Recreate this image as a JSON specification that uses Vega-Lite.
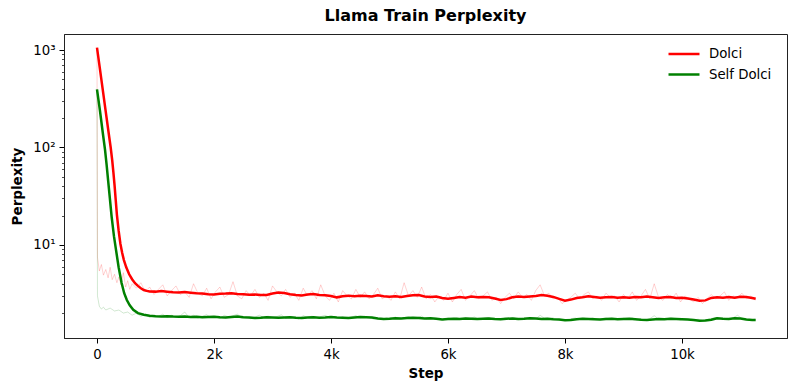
{
"$schema":"https://vega.github.io/schema/vega-lite/v6.json",
"width":723,"height":304,
"autosize":{"type":"none"},
"padding":{"left":64,"top":34,"right":11,"bottom":54},
"background":"white",
"config":{"view":{"stroke":"#222222","strokeWidth":1},"font":"DejaVu Sans","axis":{"labelFont":"DejaVu Sans","titleFont":"DejaVu Sans","labelColor":"black","titleColor":"black","tickColor":"black","domainColor":"#222222","grid":false}},
"title":{"text":"Llama Train Perplexity","font":"DejaVu Sans","fontSize":16,"fontWeight":"bold","color":"black","anchor":"middle","offset":10},
"datasets":{
"smooth":[
{"step":0,"value":1060,"series":"Dolci"},{"step":50,"value":640,"series":"Dolci"},{"step":100,"value":385,"series":"Dolci"},{"step":150,"value":232,"series":"Dolci"},{"step":200,"value":140,"series":"Dolci"},{"step":234,"value":100,"series":"Dolci"},{"step":260,"value":74,"series":"Dolci"},{"step":280,"value":56,"series":"Dolci"},{"step":300,"value":41,"series":"Dolci"},{"step":320,"value":29,"series":"Dolci"},{"step":340,"value":20.5,"series":"Dolci"},{"step":370,"value":14,"series":"Dolci"},{"step":400,"value":10.3,"series":"Dolci"},{"step":430,"value":8.3,"series":"Dolci"},{"step":460,"value":7.0,"series":"Dolci"},{"step":500,"value":5.9,"series":"Dolci"},{"step":550,"value":5.0,"series":"Dolci"},{"step":600,"value":4.45,"series":"Dolci"},{"step":650,"value":4.05,"series":"Dolci"},{"step":700,"value":3.8,"series":"Dolci"},{"step":750,"value":3.6,"series":"Dolci"},{"step":800,"value":3.45,"series":"Dolci"},{"step":850,"value":3.38,"series":"Dolci"},{"step":900,"value":3.33,"series":"Dolci"},{"step":1000,"value":3.32,"series":"Dolci"},{"step":1100,"value":3.36,"series":"Dolci"},{"step":1200,"value":3.31,"series":"Dolci"},{"step":1300,"value":3.27,"series":"Dolci"},{"step":1400,"value":3.25,"series":"Dolci"},{"step":1500,"value":3.29,"series":"Dolci"},{"step":1600,"value":3.24,"series":"Dolci"},{"step":1700,"value":3.2,"series":"Dolci"},{"step":1800,"value":3.18,"series":"Dolci"},{"step":1900,"value":3.12,"series":"Dolci"},{"step":2000,"value":3.1,"series":"Dolci"},{"step":2100,"value":3.15,"series":"Dolci"},{"step":2200,"value":3.17,"series":"Dolci"},{"step":2300,"value":3.2,"series":"Dolci"},{"step":2400,"value":3.14,"series":"Dolci"},{"step":2500,"value":3.12,"series":"Dolci"},{"step":2600,"value":3.08,"series":"Dolci"},{"step":2700,"value":3.1,"series":"Dolci"},{"step":2800,"value":3.06,"series":"Dolci"},{"step":2900,"value":3.07,"series":"Dolci"},{"step":3000,"value":3.18,"series":"Dolci"},{"step":3100,"value":3.25,"series":"Dolci"},{"step":3200,"value":3.21,"series":"Dolci"},{"step":3300,"value":3.12,"series":"Dolci"},{"step":3400,"value":3.06,"series":"Dolci"},{"step":3500,"value":3.03,"series":"Dolci"},{"step":3600,"value":3.1,"series":"Dolci"},{"step":3700,"value":3.14,"series":"Dolci"},{"step":3800,"value":3.07,"series":"Dolci"},{"step":3900,"value":3.05,"series":"Dolci"},{"step":4000,"value":3.0,"series":"Dolci"},{"step":4100,"value":2.9,"series":"Dolci"},{"step":4200,"value":2.98,"series":"Dolci"},{"step":4300,"value":3.02,"series":"Dolci"},{"step":4400,"value":2.97,"series":"Dolci"},{"step":4500,"value":3.01,"series":"Dolci"},{"step":4600,"value":3.0,"series":"Dolci"},{"step":4700,"value":2.96,"series":"Dolci"},{"step":4800,"value":3.04,"series":"Dolci"},{"step":4900,"value":2.98,"series":"Dolci"},{"step":5000,"value":2.95,"series":"Dolci"},{"step":5100,"value":2.97,"series":"Dolci"},{"step":5200,"value":2.93,"series":"Dolci"},{"step":5300,"value":2.99,"series":"Dolci"},{"step":5400,"value":3.05,"series":"Dolci"},{"step":5500,"value":3.07,"series":"Dolci"},{"step":5600,"value":2.96,"series":"Dolci"},{"step":5700,"value":2.92,"series":"Dolci"},{"step":5800,"value":2.95,"series":"Dolci"},{"step":5900,"value":2.85,"series":"Dolci"},{"step":6000,"value":2.8,"series":"Dolci"},{"step":6100,"value":2.86,"series":"Dolci"},{"step":6200,"value":2.92,"series":"Dolci"},{"step":6300,"value":2.88,"series":"Dolci"},{"step":6400,"value":2.95,"series":"Dolci"},{"step":6500,"value":2.9,"series":"Dolci"},{"step":6600,"value":2.93,"series":"Dolci"},{"step":6700,"value":2.91,"series":"Dolci"},{"step":6800,"value":2.82,"series":"Dolci"},{"step":6900,"value":2.73,"series":"Dolci"},{"step":7000,"value":2.78,"series":"Dolci"},{"step":7100,"value":2.9,"series":"Dolci"},{"step":7200,"value":2.95,"series":"Dolci"},{"step":7300,"value":2.92,"series":"Dolci"},{"step":7400,"value":2.96,"series":"Dolci"},{"step":7500,"value":3.0,"series":"Dolci"},{"step":7600,"value":3.06,"series":"Dolci"},{"step":7700,"value":3.01,"series":"Dolci"},{"step":7800,"value":2.93,"series":"Dolci"},{"step":7900,"value":2.8,"series":"Dolci"},{"step":8000,"value":2.68,"series":"Dolci"},{"step":8100,"value":2.75,"series":"Dolci"},{"step":8200,"value":2.86,"series":"Dolci"},{"step":8300,"value":2.9,"series":"Dolci"},{"step":8400,"value":2.97,"series":"Dolci"},{"step":8500,"value":2.93,"series":"Dolci"},{"step":8600,"value":2.88,"series":"Dolci"},{"step":8700,"value":2.9,"series":"Dolci"},{"step":8800,"value":2.92,"series":"Dolci"},{"step":8900,"value":2.88,"series":"Dolci"},{"step":9000,"value":2.91,"series":"Dolci"},{"step":9100,"value":2.87,"series":"Dolci"},{"step":9200,"value":2.93,"series":"Dolci"},{"step":9300,"value":2.9,"series":"Dolci"},{"step":9400,"value":2.95,"series":"Dolci"},{"step":9500,"value":2.91,"series":"Dolci"},{"step":9600,"value":2.86,"series":"Dolci"},{"step":9700,"value":2.9,"series":"Dolci"},{"step":9800,"value":2.92,"series":"Dolci"},{"step":9900,"value":2.85,"series":"Dolci"},{"step":10000,"value":2.88,"series":"Dolci"},{"step":10100,"value":2.82,"series":"Dolci"},{"step":10200,"value":2.75,"series":"Dolci"},{"step":10300,"value":2.68,"series":"Dolci"},{"step":10400,"value":2.7,"series":"Dolci"},{"step":10500,"value":2.86,"series":"Dolci"},{"step":10600,"value":2.9,"series":"Dolci"},{"step":10700,"value":2.87,"series":"Dolci"},{"step":10800,"value":2.92,"series":"Dolci"},{"step":10900,"value":2.88,"series":"Dolci"},{"step":11000,"value":2.94,"series":"Dolci"},{"step":11100,"value":2.92,"series":"Dolci"},{"step":11200,"value":2.85,"series":"Dolci"},{"step":11260,"value":2.8,"series":"Dolci"},
{"step":0,"value":395,"series":"Self Dolci"},{"step":50,"value":240,"series":"Self Dolci"},{"step":100,"value":140,"series":"Self Dolci"},{"step":137,"value":95,"series":"Self Dolci"},{"step":165,"value":66,"series":"Self Dolci"},{"step":193,"value":44,"series":"Self Dolci"},{"step":220,"value":30,"series":"Self Dolci"},{"step":250,"value":19.5,"series":"Self Dolci"},{"step":290,"value":12.3,"series":"Self Dolci"},{"step":325,"value":8.9,"series":"Self Dolci"},{"step":370,"value":5.9,"series":"Self Dolci"},{"step":420,"value":4.1,"series":"Self Dolci"},{"step":465,"value":3.2,"series":"Self Dolci"},{"step":510,"value":2.72,"series":"Self Dolci"},{"step":560,"value":2.4,"series":"Self Dolci"},{"step":620,"value":2.16,"series":"Self Dolci"},{"step":700,"value":2.0,"series":"Self Dolci"},{"step":800,"value":1.92,"series":"Self Dolci"},{"step":900,"value":1.88,"series":"Self Dolci"},{"step":1000,"value":1.86,"series":"Self Dolci"},{"step":1100,"value":1.85,"series":"Self Dolci"},{"step":1200,"value":1.86,"series":"Self Dolci"},{"step":1300,"value":1.84,"series":"Self Dolci"},{"step":1400,"value":1.83,"series":"Self Dolci"},{"step":1500,"value":1.84,"series":"Self Dolci"},{"step":1600,"value":1.82,"series":"Self Dolci"},{"step":1700,"value":1.83,"series":"Self Dolci"},{"step":1800,"value":1.81,"series":"Self Dolci"},{"step":1900,"value":1.82,"series":"Self Dolci"},{"step":2000,"value":1.83,"series":"Self Dolci"},{"step":2100,"value":1.81,"series":"Self Dolci"},{"step":2200,"value":1.8,"series":"Self Dolci"},{"step":2300,"value":1.82,"series":"Self Dolci"},{"step":2400,"value":1.84,"series":"Self Dolci"},{"step":2500,"value":1.81,"series":"Self Dolci"},{"step":2600,"value":1.8,"series":"Self Dolci"},{"step":2700,"value":1.78,"series":"Self Dolci"},{"step":2800,"value":1.79,"series":"Self Dolci"},{"step":2900,"value":1.81,"series":"Self Dolci"},{"step":3000,"value":1.8,"series":"Self Dolci"},{"step":3100,"value":1.79,"series":"Self Dolci"},{"step":3200,"value":1.8,"series":"Self Dolci"},{"step":3300,"value":1.81,"series":"Self Dolci"},{"step":3400,"value":1.79,"series":"Self Dolci"},{"step":3500,"value":1.78,"series":"Self Dolci"},{"step":3600,"value":1.8,"series":"Self Dolci"},{"step":3700,"value":1.81,"series":"Self Dolci"},{"step":3800,"value":1.79,"series":"Self Dolci"},{"step":3900,"value":1.8,"series":"Self Dolci"},{"step":4000,"value":1.82,"series":"Self Dolci"},{"step":4100,"value":1.8,"series":"Self Dolci"},{"step":4200,"value":1.79,"series":"Self Dolci"},{"step":4300,"value":1.78,"series":"Self Dolci"},{"step":4400,"value":1.8,"series":"Self Dolci"},{"step":4500,"value":1.82,"series":"Self Dolci"},{"step":4600,"value":1.81,"series":"Self Dolci"},{"step":4700,"value":1.8,"series":"Self Dolci"},{"step":4800,"value":1.76,"series":"Self Dolci"},{"step":4900,"value":1.74,"series":"Self Dolci"},{"step":5000,"value":1.75,"series":"Self Dolci"},{"step":5100,"value":1.77,"series":"Self Dolci"},{"step":5200,"value":1.76,"series":"Self Dolci"},{"step":5300,"value":1.78,"series":"Self Dolci"},{"step":5400,"value":1.79,"series":"Self Dolci"},{"step":5500,"value":1.78,"series":"Self Dolci"},{"step":5600,"value":1.76,"series":"Self Dolci"},{"step":5700,"value":1.77,"series":"Self Dolci"},{"step":5800,"value":1.75,"series":"Self Dolci"},{"step":5900,"value":1.72,"series":"Self Dolci"},{"step":6000,"value":1.74,"series":"Self Dolci"},{"step":6100,"value":1.75,"series":"Self Dolci"},{"step":6200,"value":1.74,"series":"Self Dolci"},{"step":6300,"value":1.76,"series":"Self Dolci"},{"step":6400,"value":1.75,"series":"Self Dolci"},{"step":6500,"value":1.74,"series":"Self Dolci"},{"step":6600,"value":1.75,"series":"Self Dolci"},{"step":6700,"value":1.76,"series":"Self Dolci"},{"step":6800,"value":1.74,"series":"Self Dolci"},{"step":6900,"value":1.73,"series":"Self Dolci"},{"step":7000,"value":1.75,"series":"Self Dolci"},{"step":7100,"value":1.76,"series":"Self Dolci"},{"step":7200,"value":1.74,"series":"Self Dolci"},{"step":7300,"value":1.75,"series":"Self Dolci"},{"step":7400,"value":1.77,"series":"Self Dolci"},{"step":7500,"value":1.76,"series":"Self Dolci"},{"step":7600,"value":1.74,"series":"Self Dolci"},{"step":7700,"value":1.75,"series":"Self Dolci"},{"step":7800,"value":1.73,"series":"Self Dolci"},{"step":7900,"value":1.72,"series":"Self Dolci"},{"step":8000,"value":1.69,"series":"Self Dolci"},{"step":8100,"value":1.7,"series":"Self Dolci"},{"step":8200,"value":1.73,"series":"Self Dolci"},{"step":8300,"value":1.75,"series":"Self Dolci"},{"step":8400,"value":1.74,"series":"Self Dolci"},{"step":8500,"value":1.73,"series":"Self Dolci"},{"step":8600,"value":1.72,"series":"Self Dolci"},{"step":8700,"value":1.74,"series":"Self Dolci"},{"step":8800,"value":1.75,"series":"Self Dolci"},{"step":8900,"value":1.73,"series":"Self Dolci"},{"step":9000,"value":1.74,"series":"Self Dolci"},{"step":9100,"value":1.75,"series":"Self Dolci"},{"step":9200,"value":1.73,"series":"Self Dolci"},{"step":9300,"value":1.71,"series":"Self Dolci"},{"step":9400,"value":1.7,"series":"Self Dolci"},{"step":9500,"value":1.72,"series":"Self Dolci"},{"step":9600,"value":1.74,"series":"Self Dolci"},{"step":9700,"value":1.73,"series":"Self Dolci"},{"step":9800,"value":1.75,"series":"Self Dolci"},{"step":9900,"value":1.74,"series":"Self Dolci"},{"step":10000,"value":1.73,"series":"Self Dolci"},{"step":10100,"value":1.72,"series":"Self Dolci"},{"step":10200,"value":1.7,"series":"Self Dolci"},{"step":10300,"value":1.67,"series":"Self Dolci"},{"step":10400,"value":1.68,"series":"Self Dolci"},{"step":10500,"value":1.71,"series":"Self Dolci"},{"step":10600,"value":1.77,"series":"Self Dolci"},{"step":10700,"value":1.75,"series":"Self Dolci"},{"step":10800,"value":1.74,"series":"Self Dolci"},{"step":10900,"value":1.77,"series":"Self Dolci"},{"step":11000,"value":1.76,"series":"Self Dolci"},{"step":11100,"value":1.72,"series":"Self Dolci"},{"step":11200,"value":1.7,"series":"Self Dolci"},{"step":11260,"value":1.7,"series":"Self Dolci"}
],
"raw":[
{"step":0,"value":1050,"series":"Dolci"},{"step":8,"value":7.5,"series":"Dolci"},{"step":40,"value":5.4,"series":"Dolci"},{"step":75,"value":6.3,"series":"Dolci"},{"step":110,"value":4.9,"series":"Dolci"},{"step":150,"value":5.6,"series":"Dolci"},{"step":190,"value":4.6,"series":"Dolci"},{"step":225,"value":5.9,"series":"Dolci"},{"step":260,"value":4.4,"series":"Dolci"},{"step":300,"value":5.0,"series":"Dolci"},{"step":340,"value":4.1,"series":"Dolci"},{"step":375,"value":4.7,"series":"Dolci"},{"step":410,"value":3.9,"series":"Dolci"},{"step":450,"value":5.2,"series":"Dolci"},{"step":490,"value":3.7,"series":"Dolci"},{"step":525,"value":4.3,"series":"Dolci"},{"step":560,"value":3.5,"series":"Dolci"},{"step":600,"value":4.0,"series":"Dolci"},{"step":675,"value":3.6,"series":"Dolci"},{"step":750,"value":4.1,"series":"Dolci"},{"step":825,"value":3.3,"series":"Dolci"},{"step":900,"value":3.7,"series":"Dolci"},{"step":975,"value":3.1,"series":"Dolci"},{"step":1050,"value":3.5,"series":"Dolci"},{"step":1125,"value":3.9,"series":"Dolci"},{"step":1200,"value":3.0,"series":"Dolci"},{"step":1275,"value":3.4,"series":"Dolci"},{"step":1350,"value":3.8,"series":"Dolci"},{"step":1425,"value":3.1,"series":"Dolci"},{"step":1500,"value":3.3,"series":"Dolci"},{"step":1575,"value":2.9,"series":"Dolci"},{"step":1650,"value":4.0,"series":"Dolci"},{"step":1725,"value":3.2,"series":"Dolci"},{"step":1800,"value":3.0,"series":"Dolci"},{"step":1875,"value":3.6,"series":"Dolci"},{"step":1950,"value":2.8,"series":"Dolci"},{"step":2025,"value":3.3,"series":"Dolci"},{"step":2100,"value":3.7,"series":"Dolci"},{"step":2175,"value":2.9,"series":"Dolci"},{"step":2250,"value":3.1,"series":"Dolci"},{"step":2325,"value":4.2,"series":"Dolci"},{"step":2400,"value":3.0,"series":"Dolci"},{"step":2475,"value":2.8,"series":"Dolci"},{"step":2550,"value":3.4,"series":"Dolci"},{"step":2625,"value":3.0,"series":"Dolci"},{"step":2700,"value":3.5,"series":"Dolci"},{"step":2775,"value":2.9,"series":"Dolci"},{"step":2850,"value":3.2,"series":"Dolci"},{"step":2925,"value":2.7,"series":"Dolci"},{"step":3000,"value":3.8,"series":"Dolci"},{"step":3075,"value":3.3,"series":"Dolci"},{"step":3150,"value":3.0,"series":"Dolci"},{"step":3225,"value":3.5,"series":"Dolci"},{"step":3300,"value":2.9,"series":"Dolci"},{"step":3375,"value":3.2,"series":"Dolci"},{"step":3450,"value":2.7,"series":"Dolci"},{"step":3525,"value":3.6,"series":"Dolci"},{"step":3600,"value":3.0,"series":"Dolci"},{"step":3675,"value":3.4,"series":"Dolci"},{"step":3750,"value":2.8,"series":"Dolci"},{"step":3825,"value":3.9,"series":"Dolci"},{"step":3900,"value":3.0,"series":"Dolci"},{"step":3975,"value":2.7,"series":"Dolci"},{"step":4050,"value":3.2,"series":"Dolci"},{"step":4125,"value":2.6,"series":"Dolci"},{"step":4200,"value":3.4,"series":"Dolci"},{"step":4275,"value":3.0,"series":"Dolci"},{"step":4350,"value":2.8,"series":"Dolci"},{"step":4425,"value":3.5,"series":"Dolci"},{"step":4500,"value":2.9,"series":"Dolci"},{"step":4575,"value":3.3,"series":"Dolci"},{"step":4650,"value":2.8,"series":"Dolci"},{"step":4725,"value":3.1,"series":"Dolci"},{"step":4800,"value":3.6,"series":"Dolci"},{"step":4875,"value":2.8,"series":"Dolci"},{"step":4950,"value":3.0,"series":"Dolci"},{"step":5025,"value":2.7,"series":"Dolci"},{"step":5100,"value":3.3,"series":"Dolci"},{"step":5175,"value":2.8,"series":"Dolci"},{"step":5250,"value":4.1,"series":"Dolci"},{"step":5325,"value":3.0,"series":"Dolci"},{"step":5400,"value":3.4,"series":"Dolci"},{"step":5475,"value":2.9,"series":"Dolci"},{"step":5550,"value":3.7,"series":"Dolci"},{"step":5625,"value":2.8,"series":"Dolci"},{"step":5700,"value":3.1,"series":"Dolci"},{"step":5775,"value":2.6,"series":"Dolci"},{"step":5850,"value":3.0,"series":"Dolci"},{"step":5925,"value":2.7,"series":"Dolci"},{"step":6000,"value":3.2,"series":"Dolci"},{"step":6075,"value":2.6,"series":"Dolci"},{"step":6150,"value":3.1,"series":"Dolci"},{"step":6225,"value":3.5,"series":"Dolci"},{"step":6300,"value":2.7,"series":"Dolci"},{"step":6375,"value":3.0,"series":"Dolci"},{"step":6450,"value":3.4,"series":"Dolci"},{"step":6525,"value":2.8,"series":"Dolci"},{"step":6600,"value":3.0,"series":"Dolci"},{"step":6675,"value":3.3,"series":"Dolci"},{"step":6750,"value":2.7,"series":"Dolci"},{"step":6825,"value":2.9,"series":"Dolci"},{"step":6900,"value":2.5,"series":"Dolci"},{"step":6975,"value":2.9,"series":"Dolci"},{"step":7050,"value":3.2,"series":"Dolci"},{"step":7125,"value":2.8,"series":"Dolci"},{"step":7200,"value":3.3,"series":"Dolci"},{"step":7275,"value":2.9,"series":"Dolci"},{"step":7350,"value":3.1,"series":"Dolci"},{"step":7425,"value":2.7,"series":"Dolci"},{"step":7500,"value":3.4,"series":"Dolci"},{"step":7575,"value":3.9,"series":"Dolci"},{"step":7650,"value":3.0,"series":"Dolci"},{"step":7725,"value":3.2,"series":"Dolci"},{"step":7800,"value":2.8,"series":"Dolci"},{"step":7875,"value":2.9,"series":"Dolci"},{"step":7950,"value":2.5,"series":"Dolci"},{"step":8025,"value":2.7,"series":"Dolci"},{"step":8100,"value":2.9,"series":"Dolci"},{"step":8175,"value":3.2,"series":"Dolci"},{"step":8250,"value":2.8,"series":"Dolci"},{"step":8325,"value":3.1,"series":"Dolci"},{"step":8400,"value":3.3,"series":"Dolci"},{"step":8475,"value":2.8,"series":"Dolci"},{"step":8550,"value":3.0,"series":"Dolci"},{"step":8625,"value":2.7,"series":"Dolci"},{"step":8700,"value":3.2,"series":"Dolci"},{"step":8775,"value":2.9,"series":"Dolci"},{"step":8850,"value":3.0,"series":"Dolci"},{"step":8925,"value":2.6,"series":"Dolci"},{"step":9000,"value":3.1,"series":"Dolci"},{"step":9075,"value":2.8,"series":"Dolci"},{"step":9150,"value":3.3,"series":"Dolci"},{"step":9225,"value":2.7,"series":"Dolci"},{"step":9300,"value":3.0,"series":"Dolci"},{"step":9375,"value":3.5,"series":"Dolci"},{"step":9450,"value":2.8,"series":"Dolci"},{"step":9525,"value":4.0,"series":"Dolci"},{"step":9600,"value":2.9,"series":"Dolci"},{"step":9675,"value":2.7,"series":"Dolci"},{"step":9750,"value":3.1,"series":"Dolci"},{"step":9825,"value":2.8,"series":"Dolci"},{"step":9900,"value":3.2,"series":"Dolci"},{"step":9975,"value":2.6,"series":"Dolci"},{"step":10050,"value":3.0,"series":"Dolci"},{"step":10125,"value":2.8,"series":"Dolci"},{"step":10200,"value":2.6,"series":"Dolci"},{"step":10275,"value":2.9,"series":"Dolci"},{"step":10350,"value":2.5,"series":"Dolci"},{"step":10425,"value":2.8,"series":"Dolci"},{"step":10500,"value":3.1,"series":"Dolci"},{"step":10575,"value":2.8,"series":"Dolci"},{"step":10650,"value":3.0,"series":"Dolci"},{"step":10725,"value":3.3,"series":"Dolci"},{"step":10800,"value":2.7,"series":"Dolci"},{"step":10875,"value":3.0,"series":"Dolci"},{"step":10950,"value":2.9,"series":"Dolci"},{"step":11025,"value":3.2,"series":"Dolci"},{"step":11100,"value":2.8,"series":"Dolci"},{"step":11175,"value":3.0,"series":"Dolci"},{"step":11250,"value":2.7,"series":"Dolci"},
{"step":0,"value":395,"series":"Self Dolci"},{"step":8,"value":3.0,"series":"Self Dolci"},{"step":40,"value":2.35,"series":"Self Dolci"},{"step":75,"value":2.2,"series":"Self Dolci"},{"step":110,"value":2.3,"series":"Self Dolci"},{"step":150,"value":2.15,"series":"Self Dolci"},{"step":225,"value":2.25,"series":"Self Dolci"},{"step":300,"value":2.1,"series":"Self Dolci"},{"step":375,"value":2.15,"series":"Self Dolci"},{"step":450,"value":2.0,"series":"Self Dolci"},{"step":525,"value":2.05,"series":"Self Dolci"},{"step":600,"value":1.9,"series":"Self Dolci"},{"step":675,"value":2.0,"series":"Self Dolci"},{"step":750,"value":1.85,"series":"Self Dolci"},{"step":825,"value":1.95,"series":"Self Dolci"},{"step":900,"value":1.8,"series":"Self Dolci"},{"step":975,"value":1.9,"series":"Self Dolci"},{"step":1050,"value":1.85,"series":"Self Dolci"},{"step":1125,"value":1.95,"series":"Self Dolci"},{"step":1200,"value":1.8,"series":"Self Dolci"},{"step":1275,"value":1.9,"series":"Self Dolci"},{"step":1350,"value":1.82,"series":"Self Dolci"},{"step":1425,"value":1.88,"series":"Self Dolci"},{"step":1500,"value":2.05,"series":"Self Dolci"},{"step":1575,"value":1.8,"series":"Self Dolci"},{"step":1650,"value":1.9,"series":"Self Dolci"},{"step":1725,"value":1.78,"series":"Self Dolci"},{"step":1800,"value":1.86,"series":"Self Dolci"},{"step":1875,"value":1.92,"series":"Self Dolci"},{"step":1950,"value":1.8,"series":"Self Dolci"},{"step":2025,"value":1.85,"series":"Self Dolci"},{"step":2100,"value":1.76,"series":"Self Dolci"},{"step":2175,"value":1.9,"series":"Self Dolci"},{"step":2250,"value":1.82,"series":"Self Dolci"},{"step":2325,"value":1.88,"series":"Self Dolci"},{"step":2400,"value":1.95,"series":"Self Dolci"},{"step":2475,"value":1.78,"series":"Self Dolci"},{"step":2550,"value":1.85,"series":"Self Dolci"},{"step":2625,"value":1.75,"series":"Self Dolci"},{"step":2700,"value":1.82,"series":"Self Dolci"},{"step":2775,"value":1.9,"series":"Self Dolci"},{"step":2850,"value":1.8,"series":"Self Dolci"},{"step":2925,"value":1.86,"series":"Self Dolci"},{"step":3000,"value":1.78,"series":"Self Dolci"},{"step":3075,"value":1.84,"series":"Self Dolci"},{"step":3150,"value":1.92,"series":"Self Dolci"},{"step":3225,"value":1.76,"series":"Self Dolci"},{"step":3300,"value":1.85,"series":"Self Dolci"},{"step":3375,"value":1.8,"series":"Self Dolci"},{"step":3450,"value":1.74,"series":"Self Dolci"},{"step":3525,"value":1.88,"series":"Self Dolci"},{"step":3600,"value":1.8,"series":"Self Dolci"},{"step":3675,"value":1.86,"series":"Self Dolci"},{"step":3750,"value":1.78,"series":"Self Dolci"},{"step":3825,"value":1.84,"series":"Self Dolci"},{"step":3900,"value":1.9,"series":"Self Dolci"},{"step":3975,"value":1.79,"series":"Self Dolci"},{"step":4050,"value":1.85,"series":"Self Dolci"},{"step":4125,"value":1.77,"series":"Self Dolci"},{"step":4200,"value":1.83,"series":"Self Dolci"},{"step":4275,"value":1.75,"series":"Self Dolci"},{"step":4350,"value":1.82,"series":"Self Dolci"},{"step":4425,"value":1.88,"series":"Self Dolci"},{"step":4500,"value":1.79,"series":"Self Dolci"},{"step":4575,"value":1.85,"series":"Self Dolci"},{"step":4650,"value":1.8,"series":"Self Dolci"},{"step":4725,"value":1.74,"series":"Self Dolci"},{"step":4800,"value":1.78,"series":"Self Dolci"},{"step":4875,"value":1.72,"series":"Self Dolci"},{"step":4950,"value":1.8,"series":"Self Dolci"},{"step":5025,"value":1.76,"series":"Self Dolci"},{"step":5100,"value":1.82,"series":"Self Dolci"},{"step":5175,"value":1.74,"series":"Self Dolci"},{"step":5250,"value":1.79,"series":"Self Dolci"},{"step":5325,"value":1.84,"series":"Self Dolci"},{"step":5400,"value":1.76,"series":"Self Dolci"},{"step":5475,"value":1.8,"series":"Self Dolci"},{"step":5550,"value":1.86,"series":"Self Dolci"},{"step":5625,"value":1.74,"series":"Self Dolci"},{"step":5700,"value":1.79,"series":"Self Dolci"},{"step":5775,"value":1.73,"series":"Self Dolci"},{"step":5850,"value":1.77,"series":"Self Dolci"},{"step":5925,"value":1.7,"series":"Self Dolci"},{"step":6000,"value":1.78,"series":"Self Dolci"},{"step":6075,"value":1.74,"series":"Self Dolci"},{"step":6150,"value":1.8,"series":"Self Dolci"},{"step":6225,"value":1.72,"series":"Self Dolci"},{"step":6300,"value":1.78,"series":"Self Dolci"},{"step":6375,"value":1.76,"series":"Self Dolci"},{"step":6450,"value":1.82,"series":"Self Dolci"},{"step":6525,"value":1.73,"series":"Self Dolci"},{"step":6600,"value":1.77,"series":"Self Dolci"},{"step":6675,"value":1.8,"series":"Self Dolci"},{"step":6750,"value":1.74,"series":"Self Dolci"},{"step":6825,"value":1.76,"series":"Self Dolci"},{"step":6900,"value":1.71,"series":"Self Dolci"},{"step":6975,"value":1.78,"series":"Self Dolci"},{"step":7050,"value":1.74,"series":"Self Dolci"},{"step":7125,"value":1.79,"series":"Self Dolci"},{"step":7200,"value":1.73,"series":"Self Dolci"},{"step":7275,"value":1.77,"series":"Self Dolci"},{"step":7350,"value":1.75,"series":"Self Dolci"},{"step":7425,"value":1.8,"series":"Self Dolci"},{"step":7500,"value":1.74,"series":"Self Dolci"},{"step":7575,"value":1.9,"series":"Self Dolci"},{"step":7650,"value":1.76,"series":"Self Dolci"},{"step":7725,"value":1.73,"series":"Self Dolci"},{"step":7800,"value":1.78,"series":"Self Dolci"},{"step":7875,"value":1.71,"series":"Self Dolci"},{"step":7950,"value":1.69,"series":"Self Dolci"},{"step":8025,"value":1.72,"series":"Self Dolci"},{"step":8100,"value":1.75,"series":"Self Dolci"},{"step":8175,"value":1.78,"series":"Self Dolci"},{"step":8250,"value":1.72,"series":"Self Dolci"},{"step":8325,"value":1.77,"series":"Self Dolci"},{"step":8400,"value":1.74,"series":"Self Dolci"},{"step":8475,"value":1.79,"series":"Self Dolci"},{"step":8550,"value":1.72,"series":"Self Dolci"},{"step":8625,"value":1.75,"series":"Self Dolci"},{"step":8700,"value":1.78,"series":"Self Dolci"},{"step":8775,"value":1.73,"series":"Self Dolci"},{"step":8850,"value":1.76,"series":"Self Dolci"},{"step":8925,"value":1.72,"series":"Self Dolci"},{"step":9000,"value":1.77,"series":"Self Dolci"},{"step":9075,"value":1.74,"series":"Self Dolci"},{"step":9150,"value":1.79,"series":"Self Dolci"},{"step":9225,"value":1.71,"series":"Self Dolci"},{"step":9300,"value":1.74,"series":"Self Dolci"},{"step":9375,"value":1.69,"series":"Self Dolci"},{"step":9450,"value":1.75,"series":"Self Dolci"},{"step":9525,"value":1.88,"series":"Self Dolci"},{"step":9600,"value":1.73,"series":"Self Dolci"},{"step":9675,"value":1.76,"series":"Self Dolci"},{"step":9750,"value":1.72,"series":"Self Dolci"},{"step":9825,"value":1.78,"series":"Self Dolci"},{"step":9900,"value":1.74,"series":"Self Dolci"},{"step":9975,"value":1.7,"series":"Self Dolci"},{"step":10050,"value":1.75,"series":"Self Dolci"},{"step":10125,"value":1.72,"series":"Self Dolci"},{"step":10200,"value":1.69,"series":"Self Dolci"},{"step":10275,"value":1.73,"series":"Self Dolci"},{"step":10350,"value":1.68,"series":"Self Dolci"},{"step":10425,"value":1.71,"series":"Self Dolci"},{"step":10500,"value":1.76,"series":"Self Dolci"},{"step":10575,"value":1.8,"series":"Self Dolci"},{"step":10650,"value":1.74,"series":"Self Dolci"},{"step":10725,"value":1.77,"series":"Self Dolci"},{"step":10800,"value":1.72,"series":"Self Dolci"},{"step":10875,"value":1.79,"series":"Self Dolci"},{"step":10950,"value":1.9,"series":"Self Dolci"},{"step":11025,"value":1.75,"series":"Self Dolci"},{"step":11100,"value":1.72,"series":"Self Dolci"},{"step":11175,"value":1.7,"series":"Self Dolci"},{"step":11250,"value":1.73,"series":"Self Dolci"}
]},
"encoding":{
"x":{"field":"step","type":"quantitative","scale":{"domain":[-564,11795],"nice":false,"zero":false},
 "axis":{"title":"Step","values":[0,2000,4000,6000,8000,10000],"labelExpr":"datum.value == 0 ? '0' : (datum.value/1000) + 'k'","labelFontSize":13.3,"labelPadding":4,"tickSize":5,"tickWidth":1,"titleFontSize":13.5,"titleFontWeight":"bold","titlePadding":6}},
"y":{"field":"value","type":"quantitative","scale":{"type":"log","domain":[1.11,1460],"nice":false,"zero":false},
 "axis":{"title":"Perplexity","values":[2,3,4,5,6,7,8,9,10,20,30,40,50,60,70,80,90,100,200,300,400,500,600,700,800,900,1000],
 "labelExpr":"datum.value == 10 ? '10¹' : datum.value == 100 ? '10²' : datum.value == 1000 ? '10³' : ''",
 "tickSize":{"condition":{"test":"datum.value == 10 || datum.value == 100 || datum.value == 1000","value":5},"value":2.5},
 "tickWidth":{"condition":{"test":"datum.value == 10 || datum.value == 100 || datum.value == 1000","value":1},"value":0.7},
 "labelFontSize":13.3,"labelPadding":4,"titleFontSize":13.5,"titleFontWeight":"bold","titlePadding":8}}
},
"resolve":{"scale":{"color":"independent"}},
"layer":[
{"data":{"name":"raw"},"mark":{"type":"line","strokeWidth":1,"opacity":0.18,"clip":true},
 "encoding":{"color":{"field":"series","type":"nominal","scale":{"domain":["Dolci","Self Dolci"],"range":["#ff0000","#008000"]},"legend":null}}},
{"data":{"name":"smooth"},"mark":{"type":"line","strokeWidth":2.5,"clip":true},
 "encoding":{"color":{"field":"series","type":"nominal","scale":{"domain":["Dolci","Self Dolci"],"range":["#ff0000","#008000"]},
 "legend":{"title":null,"orient":"none","legendX":611,"legendY":11,"padding":0,"symbolType":"M-2,0H2","symbolSize":240,"symbolStrokeWidth":2.5,"symbolOpacity":1,"labelFontSize":13.3,"labelFont":"DejaVu Sans","labelColor":"black","labelOffset":16,"rowPadding":4.5}}}}
]
}
